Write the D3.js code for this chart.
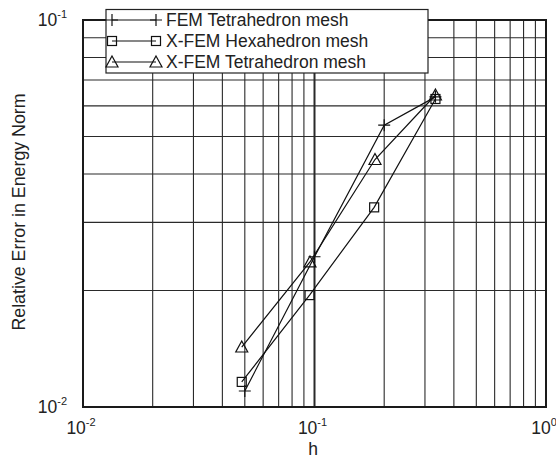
<!DOCTYPE html>
<html><head><meta charset="utf-8">
<script src="https://cdn.jsdelivr.net/npm/d3@7"></script>
<style>body{margin:0;background:#fff}svg{display:block}text{font-family:"Liberation Sans",Arial,Helvetica,sans-serif;fill:#222}</style>
</head><body>
<script>
const seriesNames = ["FEM Tetrahedron mesh", "X-FEM Hexahedron mesh", "X-FEM Tetrahedron mesh"];
const femH = [0.05, 0.1, 0.2, 0.333];
const femErr = [0.0110, 0.02445, 0.0535, 0.0633];
const hexH = [0.0485, 0.0952, 0.181, 0.333];
const hexErr = [0.01161, 0.01946, 0.0328, 0.0625];
const triH = [0.0485, 0.0956, 0.1825, 0.333];
const triErr = [0.01429, 0.0237, 0.0436, 0.0640];
const xTickExps = ["-2", "-1", "0"];
const yTickExps = ["-2", "-1"];

const W = 556, H = 459;
const L = 83, R = 546, T = 20, B = 407;
const svg = d3.select("body").append("svg").attr("width", W).attr("height", H);
const x = d3.scaleLog().domain([0.01, 1]).range([L, R]);
const y = d3.scaleLog().domain([0.01, 0.1]).range([B, T]);

// grid
const g = svg.append("g");
x.ticks().forEach(v => {
  const isMajor = Math.abs(Math.log10(v) - Math.round(Math.log10(v))) < 1e-9;
  g.append("line").attr("x1", x(v)).attr("x2", x(v)).attr("y1", T).attr("y2", B)
    .attr("stroke", "#2a2a2a").attr("stroke-width", isMajor ? 2 : 1.1);
});
y.ticks().forEach(v => {
  g.append("line").attr("x1", L).attr("x2", R).attr("y1", y(v)).attr("y2", y(v))
    .attr("stroke", "#2a2a2a").attr("stroke-width", 1.1);
});
svg.append("rect").attr("x", L).attr("y", T).attr("width", R - L).attr("height", B - T)
  .attr("fill", "none").attr("stroke", "#1a1a1a").attr("stroke-width", 2);

// tick labels
[0.01, 0.1, 1].forEach((v, i) => {
  const t = svg.append("text").attr("x", x(v) - 2).attr("y", 434).attr("text-anchor", "middle").attr("font-size", 17.5);
  t.append("tspan").text("10");
  t.append("tspan").attr("dy", -8).attr("font-size", 11).text(xTickExps[i]);
});
[0.01, 0.1].forEach((v, i) => {
  const t = svg.append("text").attr("x", 67).attr("y", y(v) + 6).attr("text-anchor", "end").attr("font-size", 17.5);
  t.append("tspan").text("10");
  t.append("tspan").attr("dy", -8).attr("font-size", 11).text(yTickExps[i]);
});
svg.append("text").attr("x", 313).attr("y", 455).attr("text-anchor", "middle").attr("font-size", 17.5).text("h");
svg.append("text").attr("transform", "translate(25,212) rotate(-90)").attr("text-anchor", "middle")
  .attr("font-size", 17.8).text("Relative Error in Energy Norm");

// markers
function marker(sel, type, cx, cy) {
  if (type === 0) {
    sel.append("path").attr("d", `M${cx-6},${cy}H${cx+6}M${cx},${cy-6}V${cy+6}`)
      .attr("stroke", "#111").attr("stroke-width", 1.2).attr("fill", "none");
  } else if (type === 1) {
    sel.append("rect").attr("x", cx - 4.5).attr("y", cy - 4.5).attr("width", 9).attr("height", 9)
      .attr("stroke", "#111").attr("stroke-width", 1.2).attr("fill", "none");
  } else {
    sel.append("path").attr("d", `M${cx},${cy-6}L${cx+6},${cy+5}L${cx-6},${cy+5}Z`)
      .attr("stroke", "#111").attr("stroke-width", 1.2).attr("fill", "none");
  }
}

const series = [[femH, femErr], [hexH, hexErr], [triH, triErr]];
const line = d3.line().x(d => x(d[0])).y(d => y(d[1]));
series.forEach(([hs, es], k) => {
  const pts = hs.map((h, i) => [h, es[i]]);
  svg.append("path").attr("d", line(pts)).attr("fill", "none").attr("stroke", "#111").attr("stroke-width", 1.2);
  const mg = svg.append("g");
  pts.forEach(p => marker(mg, k, x(p[0]), y(p[1])));
});

// legend
const lg = svg.append("g");
lg.append("rect").attr("x", 106).attr("y", 9.5).attr("width", 322).attr("height", 63.5)
  .attr("fill", "#fff").attr("stroke", "#222").attr("stroke-width", 1.2);
seriesNames.forEach((name, k) => {
  const cy = 20 + k * 21;
  lg.append("line").attr("x1", 112).attr("x2", 156).attr("y1", cy).attr("y2", cy).attr("stroke", "#111").attr("stroke-width", 1.2);
  marker(lg, k, 112, cy);
  marker(lg, k, 156, cy);
  lg.append("text").attr("x", 166).attr("y", cy + 6).attr("font-size", 17.5).text(name);
});
</script>
</body></html>
